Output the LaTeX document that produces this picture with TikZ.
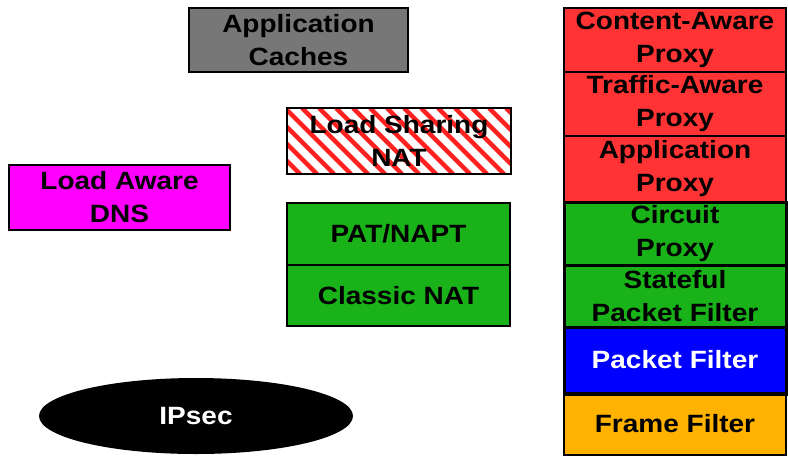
\documentclass[tikz,border=0pt]{standalone}
\usepackage{fontspec}
\setmainfont{Liberation Sans}[FakeStretch=1.12]
\usetikzlibrary{shapes.geometric}
\definecolor{cachegray}{HTML}{777777}
\definecolor{dnsmagenta}{HTML}{FF00FF}
\definecolor{proxyred}{HTML}{FF3333}
\definecolor{natgreen}{HTML}{19B219}
\definecolor{pfblue}{HTML}{0000FF}
\definecolor{ffOrange}{HTML}{FFB300}
\definecolor{stripered}{HTML}{FF2020}
\tikzset{
  labeltext/.style={font=\fontsize{25}{33}\selectfont\bfseries, align=center},
  layerbox/.style={labeltext, draw=black, line width=1.5pt, inner sep=0pt, rectangle},
}
\begin{document}
\begin{tikzpicture}[x=1pt,y=-1pt]
\useasboundingbox (0,0) rectangle (788,456);

% application caches
\node[layerbox, fill=cachegray, minimum width=219pt, minimum height=64pt] (cache) at (298.5,40) {Application\\Caches};

% load sharing NAT with red diagonal stripes
\begin{scope}
  \clip (287,108) rectangle (511,174);
  \foreach \s in {200,217,...,520}
    \draw[stripered, line width=4.5pt] (\s,108) -- (\s+66,174);
\end{scope}
\node[layerbox, minimum width=224pt, minimum height=66pt] (lsnat) at (399,141) {Load Sharing\\NAT};

% load aware DNS
\node[layerbox, fill=dnsmagenta, minimum width=221pt, minimum height=65pt] (dns) at (119.5,197.5) {Load Aware\\DNS};

% NAT stack
\node[layerbox, fill=natgreen, minimum width=223pt, minimum height=62pt] (pat) at (398.5,234) {PAT/NAPT};
\node[layerbox, fill=natgreen, minimum width=223pt, minimum height=61pt] (cnat) at (398.5,295.5) {Classic NAT};

% IPsec
\node[ellipse, fill=black, text=white, labeltext, minimum width=314pt, minimum height=76pt, inner sep=0pt] (ipsec) at (196,416) {IPsec};

% firewall / proxy stack
\node[layerbox, fill=proxyred, minimum width=222pt, minimum height=64pt] (cap) at (675,40) {Content-Aware\\Proxy};
\node[layerbox, fill=proxyred, minimum width=222pt, minimum height=64pt] (tap) at (675,104) {Traffic-Aware\\Proxy};
\node[layerbox, fill=proxyred, minimum width=222pt, minimum height=66pt] (app) at (675,169) {Application\\Proxy};
\node[layerbox, fill=natgreen, line width=3pt, minimum width=222pt, minimum height=63pt] (circ) at (675,233.5) {Circuit\\Proxy};
\node[layerbox, fill=natgreen, line width=3pt, minimum width=222pt, minimum height=62pt] (spf) at (675,296) {Stateful\\Packet Filter};
\node[layerbox, fill=pfblue, text=white, line width=3pt, minimum width=222pt, minimum height=66pt] (pf) at (675,360) {Packet Filter};
\node[layerbox, fill=ffOrange, minimum width=222pt, minimum height=62pt] (ff) at (675,424) {Frame Filter};
\draw[line width=3pt] (pf.south west) -- (pf.south east);
\end{tikzpicture}
\end{document}
